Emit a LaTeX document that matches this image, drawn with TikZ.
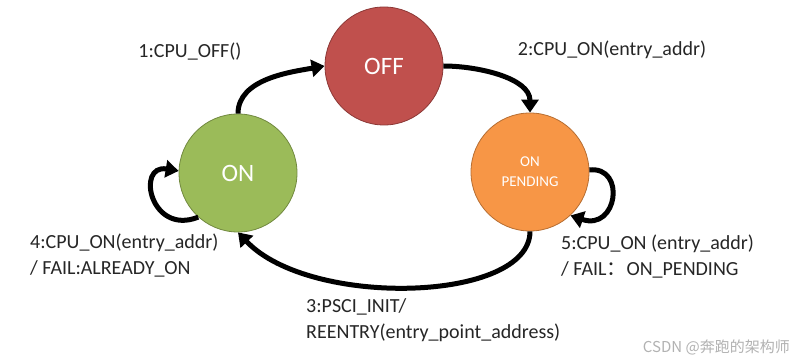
\documentclass[tikz,border=0pt]{standalone}
\usepackage{fontspec}
\setmainfont{Carlito}
\newfontfamily\cjk{Noto Sans CJK SC}
\usetikzlibrary{arrows.meta}
\definecolor{offred}{HTML}{C0504D}
\definecolor{offedge}{HTML}{8C3836}
\definecolor{ongreen}{HTML}{9BBB59}
\definecolor{onedge}{HTML}{71893F}
\definecolor{pendorange}{HTML}{F79646}
\definecolor{pendedge}{HTML}{B66D31}
\definecolor{labeltext}{HTML}{262626}
\tikzset{
  state/.style={circle, minimum size=118pt, inner sep=0pt, line width=0.8pt, text=white, align=center},
  trans/.style={line width=5pt, -{Triangle[length=13pt,width=17pt]}},
  lbl/.style={font=\fontsize{20}{26}\selectfont, text=labeltext, inner sep=0pt, align=left},
}
\begin{document}
\begin{tikzpicture}[x=1pt,y=1pt]
\useasboundingbox (0,0) rectangle (801,362);
\fill[white] (0,0) rectangle (801,362);

\node[state, fill=offred, draw=offedge, font=\fontsize{25}{30}\selectfont] (OFF) at (384,296) {OFF};
\node[state, fill=ongreen, draw=onedge, font=\fontsize{25}{30}\selectfont] (ON) at (238,189) {ON};
\node[state, fill=pendorange, draw=pendedge, font=\fontsize{15}{20}\selectfont] (PEND) at (530,190) {ON\\PENDING};

% transitions
\draw[trans] (ON.north) to[out=90, in=190, looseness=0.9] (OFF.west);
\draw[trans] (OFF.east) to[out=0, in=90, looseness=0.9] (PEND.north);
\draw[trans] (PEND.south) .. controls +(0,-71) and +(72,-76) .. (ON.south);
\draw[trans] (ON.228) .. controls +(-48,-19) and +(-43,7) .. (ON.178);
\draw[trans] (PEND.2) .. controls +(37,4) and +(47,-16) .. (PEND.-47);

% labels
\node[lbl, anchor=center] (l1) at (190,310) {1:CPU\_OFF()};
\node[lbl, anchor=center] (l2) at (612,312) {2:CPU\_ON(entry\_addr)};
\node[lbl, anchor=north west] (l4) at (30,128) {4:CPU\_ON(entry\_addr)\\ / FAIL:ALREADY\_ON};
\node[lbl, anchor=north west] (l3) at (306,64) {3:PSCI\_INIT/\\REENTRY(entry\_point\_address)};
\node[lbl, anchor=north west] (l5) at (561,127) {5:CPU\_ON (entry\_addr)\\/ FAIL{\cjk ：}ON\_PENDING};

\node[font=\cjk\fontsize{15}{17}\selectfont, text=black!30, anchor=east, inner sep=0pt] (wm) at (790,15) {CSDN @奔跑的架构师};
\end{tikzpicture}
\end{document}
